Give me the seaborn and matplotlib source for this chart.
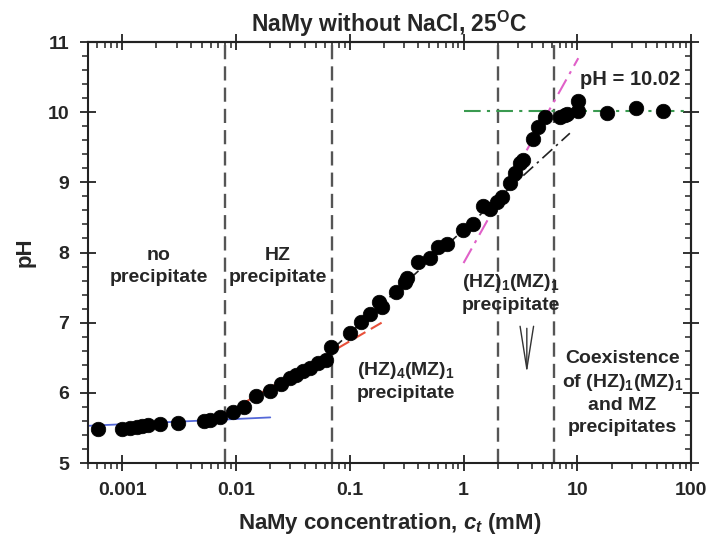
import numpy as np
import pandas as pd
import matplotlib.pyplot as plt
import seaborn as sns
from matplotlib.ticker import LogLocator, MultipleLocator, FixedLocator, NullFormatter

plt.switch_backend("Agg")

# measured points: NaMy concentration (mM) and pH
conc = [0.000615, 0.001, 0.00118, 0.00135, 0.0015, 0.00169, 0.00216, 0.0031,
        0.00525, 0.00593, 0.0072, 0.0094, 0.0118, 0.0151, 0.020, 0.025, 0.030,
        0.034, 0.039, 0.045, 0.053, 0.062, 0.069, 0.10, 0.126, 0.151, 0.181,
        0.193, 0.256, 0.307, 0.319, 0.399, 0.509, 0.598, 0.718, 0.992, 1.21,
        1.49, 1.71, 1.97, 2.18, 2.57, 2.84, 3.14, 3.3, 4.09, 4.53, 5.21, 7.07,
        7.82, 8.13, 10.2, 10.2, 18.3, 32.9, 56.8]
ph = [5.49, 5.49, 5.50, 5.52, 5.53, 5.54, 5.56, 5.57,
      5.60, 5.62, 5.65, 5.72, 5.80, 5.95, 6.03, 6.13, 6.21,
      6.25, 6.31, 6.36, 6.42, 6.47, 6.65, 6.86, 7.01, 7.13, 7.29,
      7.23, 7.44, 7.58, 7.64, 7.86, 7.92, 8.08, 8.12, 8.32, 8.41,
      8.66, 8.62, 8.72, 8.79, 8.99, 9.13, 9.28, 9.32, 9.62, 9.79, 9.93, 9.93,
      9.96, 9.98, 10.02, 10.16, 9.99, 10.06, 10.02]

# fitted lines (end points)
blue_x, blue_y = [0.0005, 0.02], [5.53, 5.65]
red_x, red_y = [0.008, 0.2], [5.70, 7.02]
black_x, black_y = [0.07, 8.6], [6.62, 9.70]
magenta_x, magenta_y = [1.0, 10.2], [7.85, 10.77]
green_x, green_y = [1.0, 100.0], [10.02, 10.02]

# region boundaries (mM)
boundaries = [0.008, 0.07, 2.0, 6.2]

df = pd.DataFrame({"conc": conc, "pH": ph})

sns.set_style("ticks")
plt.rcParams["font.family"] = ["Liberation Sans", "DejaVu Sans"]
plt.rcParams["font.weight"] = "bold"
plt.rcParams["mathtext.fontset"] = "custom"
plt.rcParams["mathtext.rm"] = "Liberation Sans:bold"
plt.rcParams["mathtext.bf"] = "Liberation Sans:bold"
plt.rcParams["mathtext.it"] = "Liberation Sans:bold:italic"

fig = plt.figure(figsize=(7.12, 5.46), dpi=100)
ax = fig.add_axes([0.1236, 0.152, 0.847, 0.771])
ax.set_xscale("log")
ax.set_xlim(0.0005, 100)
ax.set_ylim(5, 11)

for b in boundaries:
    ax.axvline(b, color="#555555", lw=1.7, ls=(0, (6, 3)), zorder=1)

dashdot = (0, (8, 3, 1.5, 3))
sns.lineplot(x=blue_x, y=blue_y, ax=ax, color="#5468d8", lw=1.3, zorder=2)
sns.lineplot(x=red_x, y=red_y, ax=ax, color="#e8503a", lw=1.5, ls=(0, (6, 3)), zorder=2)
sns.lineplot(x=black_x, y=black_y, ax=ax, color="#222222", lw=1.2, ls=dashdot, zorder=2)
sns.lineplot(x=magenta_x, y=magenta_y, ax=ax, color="#e060c8", lw=1.5, ls=dashdot, zorder=2)
sns.lineplot(x=green_x, y=green_y, ax=ax, color="#3a9a50", lw=1.5, ls=dashdot, zorder=2)

sns.scatterplot(data=df, x="conc", y="pH", ax=ax, color="black", s=110,
                edgecolor="black", linewidth=0.5, zorder=3)

txt = dict(ha="center", va="center", fontsize=14, fontweight="bold", linespacing=1.35)
ax.text(0.0021, 7.8, "no\nprecipitate", **txt)
ax.text(0.0234, 7.8, "HZ\nprecipitate", **txt)
ax.text(0.31, 6.17, "(HZ)$_\\mathbf{4}$(MZ)$_\\mathbf{1}$\nprecipitate", **txt)
ax.text(2.6, 7.42, "(HZ)$_\\mathbf{1}$(MZ)$_\\mathbf{1}$\nprecipitate", **txt)
ax.text(25, 6.0, "Coexistence\nof (HZ)$_\\mathbf{1}$(MZ)$_\\mathbf{1}$\nand MZ\nprecipitates", **txt)
ax.text(29, 10.46, "pH = 10.02", ha="center", va="center", fontsize=14.5, fontweight="bold")

ax.annotate("", xy=(3.6, 6.28), xytext=(3.6, 6.92),
            arrowprops=dict(arrowstyle="->,head_length=1.7,head_width=0.27",
                            color="#333333", lw=1.0, mutation_scale=18,
                            shrinkA=0, shrinkB=0))

ax.set_title("NaMy without NaCl, 25$^\\mathbf{O}$C", fontsize=16.5, fontweight="bold", pad=7)
ax.set_xlabel("NaMy concentration, $c_t$ (mM)", fontsize=16, fontweight="bold", labelpad=9)
ax.set_ylabel("pH", fontsize=16, fontweight="bold", labelpad=9)

ax.xaxis.set_major_locator(FixedLocator([0.001, 0.01, 0.1, 1, 10, 100]))
ax.xaxis.set_major_formatter(plt.FuncFormatter(lambda v, p: f"{v:g}"))
ax.xaxis.set_minor_locator(LogLocator(base=10, subs=np.arange(2, 10)))
ax.xaxis.set_minor_formatter(NullFormatter())
ax.yaxis.set_major_locator(MultipleLocator(1))
ax.yaxis.set_minor_locator(MultipleLocator(0.2))

ax.tick_params(which="major", direction="inout", length=11, width=1.3,
               labelsize=14, pad=8, color="#222222")
ax.tick_params(which="minor", direction="out", length=4, width=1.1, color="#222222")
for lab in ax.get_xticklabels() + ax.get_yticklabels():
    lab.set_fontweight("bold")

# mirrored axes on top and right, ticks pointing inward
top = ax.secondary_xaxis("top")
top.xaxis.set_major_locator(FixedLocator([0.001, 0.01, 0.1, 1, 10, 100]))
top.xaxis.set_minor_locator(LogLocator(base=10, subs=np.arange(2, 10)))
top.xaxis.set_major_formatter(NullFormatter())
top.xaxis.set_minor_formatter(NullFormatter())
top.tick_params(which="major", direction="inout", length=11, width=1.3, color="#222222")
top.tick_params(which="minor", direction="in", length=4, width=1.1, color="#222222")
right = ax.secondary_yaxis("right")
right.yaxis.set_major_locator(MultipleLocator(1))
right.yaxis.set_minor_locator(MultipleLocator(0.2))
right.yaxis.set_major_formatter(NullFormatter())
right.tick_params(which="major", direction="inout", length=11, width=1.3, color="#222222")
right.tick_params(which="minor", direction="in", length=4, width=1.1, color="#222222")

for a in (ax, top, right):
    for sp in a.spines.values():
        sp.set_linewidth(1.5)
        sp.set_color("#222222")
ax.spines["top"].set_visible(True)
ax.spines["right"].set_visible(True)

fig.savefig("out.png", dpi=100)
